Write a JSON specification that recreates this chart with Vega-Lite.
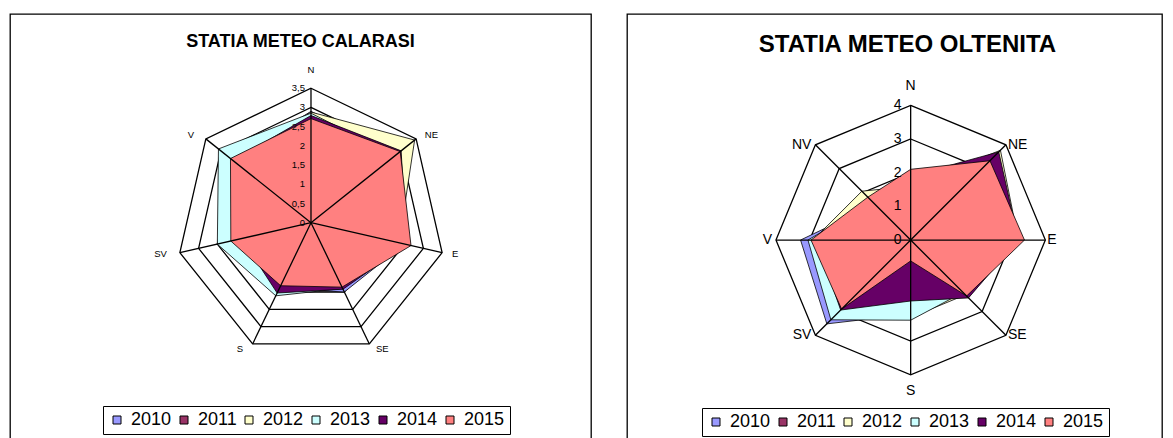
{
  "$schema": "https://vega.github.io/schema/vega-lite/v6.json",
  "background": "white",
  "padding": {"left": 9, "top": 13, "right": 0, "bottom": 0},
  "spacing": 34,
  "config": {
    "view": {"stroke": "black", "strokeWidth": 1.3},
    "font": "Liberation Sans",
    "locale": {"number": {"decimal": ",", "thousands": ".", "grouping": [3], "currency": ["", ""]}}
  },
  "resolve": {"scale": {"fill": "independent", "x": "independent", "y": "independent"}},
  "datasets": {
    "cal": [
      {"year": "2010", "dir": "N", "k": 0, "v": 2.9}, {"year": "2010", "dir": "NE", "k": 1, "v": 2.85}, {"year": "2010", "dir": "E", "k": 2, "v": 2.5}, {"year": "2010", "dir": "SE", "k": 3, "v": 2.0}, {"year": "2010", "dir": "S", "k": 4, "v": 1.9}, {"year": "2010", "dir": "SV", "k": 5, "v": 2.0}, {"year": "2010", "dir": "V", "k": 6, "v": 2.6},
      {"year": "2011", "dir": "N", "k": 0, "v": 2.7}, {"year": "2011", "dir": "NE", "k": 1, "v": 2.8}, {"year": "2011", "dir": "E", "k": 2, "v": 2.5}, {"year": "2011", "dir": "SE", "k": 3, "v": 1.85}, {"year": "2011", "dir": "S", "k": 4, "v": 1.8}, {"year": "2011", "dir": "SV", "k": 5, "v": 1.9}, {"year": "2011", "dir": "V", "k": 6, "v": 2.5},
      {"year": "2012", "dir": "N", "k": 0, "v": 2.88}, {"year": "2012", "dir": "NE", "k": 1, "v": 3.45}, {"year": "2012", "dir": "E", "k": 2, "v": 2.35}, {"year": "2012", "dir": "SE", "k": 3, "v": 1.8}, {"year": "2012", "dir": "S", "k": 4, "v": 1.8}, {"year": "2012", "dir": "SV", "k": 5, "v": 2.0}, {"year": "2012", "dir": "V", "k": 6, "v": 2.6},
      {"year": "2013", "dir": "N", "k": 0, "v": 2.85}, {"year": "2013", "dir": "NE", "k": 1, "v": 2.8}, {"year": "2013", "dir": "E", "k": 2, "v": 2.4}, {"year": "2013", "dir": "SE", "k": 3, "v": 1.9}, {"year": "2013", "dir": "S", "k": 4, "v": 2.11}, {"year": "2013", "dir": "SV", "k": 5, "v": 2.5}, {"year": "2013", "dir": "V", "k": 6, "v": 3.08},
      {"year": "2014", "dir": "N", "k": 0, "v": 2.79}, {"year": "2014", "dir": "NE", "k": 1, "v": 3.0}, {"year": "2014", "dir": "E", "k": 2, "v": 2.55}, {"year": "2014", "dir": "SE", "k": 3, "v": 1.92}, {"year": "2014", "dir": "S", "k": 4, "v": 2.03}, {"year": "2014", "dir": "SV", "k": 5, "v": 1.85}, {"year": "2014", "dir": "V", "k": 6, "v": 2.6},
      {"year": "2015", "dir": "N", "k": 0, "v": 2.71}, {"year": "2015", "dir": "NE", "k": 1, "v": 2.97}, {"year": "2015", "dir": "E", "k": 2, "v": 2.67}, {"year": "2015", "dir": "SE", "k": 3, "v": 1.86}, {"year": "2015", "dir": "S", "k": 4, "v": 1.82}, {"year": "2015", "dir": "SV", "k": 5, "v": 2.14}, {"year": "2015", "dir": "V", "k": 6, "v": 2.68}
    ],
    "olt": [
      {"year": "2010", "dir": "N", "k": 0, "v": 1.8}, {"year": "2010", "dir": "NE", "k": 1, "v": 3.3}, {"year": "2010", "dir": "E", "k": 2, "v": 3.0}, {"year": "2010", "dir": "SE", "k": 3, "v": 2.1}, {"year": "2010", "dir": "S", "k": 4, "v": 2.2}, {"year": "2010", "dir": "SV", "k": 5, "v": 3.52}, {"year": "2010", "dir": "V", "k": 6, "v": 3.27}, {"year": "2010", "dir": "NV", "k": 7, "v": 1.5},
      {"year": "2011", "dir": "N", "k": 0, "v": 1.9}, {"year": "2011", "dir": "NE", "k": 1, "v": 3.6}, {"year": "2011", "dir": "E", "k": 2, "v": 3.1}, {"year": "2011", "dir": "SE", "k": 3, "v": 2.2}, {"year": "2011", "dir": "S", "k": 4, "v": 2.0}, {"year": "2011", "dir": "SV", "k": 5, "v": 3.0}, {"year": "2011", "dir": "V", "k": 6, "v": 2.9}, {"year": "2011", "dir": "NV", "k": 7, "v": 1.6},
      {"year": "2012", "dir": "N", "k": 0, "v": 1.6}, {"year": "2012", "dir": "NE", "k": 1, "v": 3.77}, {"year": "2012", "dir": "E", "k": 2, "v": 3.2}, {"year": "2012", "dir": "SE", "k": 3, "v": 2.3}, {"year": "2012", "dir": "S", "k": 4, "v": 2.3}, {"year": "2012", "dir": "SV", "k": 5, "v": 2.8}, {"year": "2012", "dir": "V", "k": 6, "v": 2.9}, {"year": "2012", "dir": "NV", "k": 7, "v": 2.05},
      {"year": "2013", "dir": "N", "k": 0, "v": 1.9}, {"year": "2013", "dir": "NE", "k": 1, "v": 3.2}, {"year": "2013", "dir": "E", "k": 2, "v": 3.0}, {"year": "2013", "dir": "SE", "k": 3, "v": 2.2}, {"year": "2013", "dir": "S", "k": 4, "v": 2.38}, {"year": "2013", "dir": "SV", "k": 5, "v": 3.35}, {"year": "2013", "dir": "V", "k": 6, "v": 3.05}, {"year": "2013", "dir": "NV", "k": 7, "v": 1.6},
      {"year": "2014", "dir": "N", "k": 0, "v": 1.9}, {"year": "2014", "dir": "NE", "k": 1, "v": 3.7}, {"year": "2014", "dir": "E", "k": 2, "v": 3.2}, {"year": "2014", "dir": "SE", "k": 3, "v": 2.43}, {"year": "2014", "dir": "S", "k": 4, "v": 1.81}, {"year": "2014", "dir": "SV", "k": 5, "v": 2.94}, {"year": "2014", "dir": "V", "k": 6, "v": 2.8}, {"year": "2014", "dir": "NV", "k": 7, "v": 1.5},
      {"year": "2015", "dir": "N", "k": 0, "v": 2.1}, {"year": "2015", "dir": "NE", "k": 1, "v": 3.33}, {"year": "2015", "dir": "E", "k": 2, "v": 3.38}, {"year": "2015", "dir": "SE", "k": 3, "v": 2.35}, {"year": "2015", "dir": "S", "k": 4, "v": 0.62}, {"year": "2015", "dir": "SV", "k": 5, "v": 2.9}, {"year": "2015", "dir": "V", "k": 6, "v": 2.96}, {"year": "2015", "dir": "NV", "k": 7, "v": 1.8}
    ],
    "dirs_c": [{"dir": "N", "k": 0}, {"dir": "NE", "k": 1}, {"dir": "E", "k": 2}, {"dir": "SE", "k": 3}, {"dir": "S", "k": 4}, {"dir": "SV", "k": 5}, {"dir": "V", "k": 6}],
    "dirs_o": [{"dir": "N", "k": 0}, {"dir": "NE", "k": 1}, {"dir": "E", "k": 2}, {"dir": "SE", "k": 3}, {"dir": "S", "k": 4}, {"dir": "SV", "k": 5}, {"dir": "V", "k": 6}, {"dir": "NV", "k": 7}],
    "rings_c": [
      {"level": 0.5, "k": [0, 1, 2, 3, 4, 5, 6]}, {"level": 1, "k": [0, 1, 2, 3, 4, 5, 6]}, {"level": 1.5, "k": [0, 1, 2, 3, 4, 5, 6]}, {"level": 2, "k": [0, 1, 2, 3, 4, 5, 6]}, {"level": 2.5, "k": [0, 1, 2, 3, 4, 5, 6]}, {"level": 3, "k": [0, 1, 2, 3, 4, 5, 6]}, {"level": 3.5, "k": [0, 1, 2, 3, 4, 5, 6]}
    ],
    "rings_o": [
      {"level": 1, "k": [0, 1, 2, 3, 4, 5, 6, 7]}, {"level": 2, "k": [0, 1, 2, 3, 4, 5, 6, 7]}, {"level": 3, "k": [0, 1, 2, 3, 4, 5, 6, 7]}, {"level": 4, "k": [0, 1, 2, 3, 4, 5, 6, 7]}
    ],
    "ticks_c": [{"level": 0}, {"level": 0.5}, {"level": 1}, {"level": 1.5}, {"level": 2}, {"level": 2.5}, {"level": 3}, {"level": 3.5}],
    "ticks_o": [{"level": 0}, {"level": 1}, {"level": 2}, {"level": 3}, {"level": 4}]
  },
  "hconcat": [
    {
      "width": 581,
      "height": 425,
      "title": {"text": "STATIA METEO CALARASI", "fontSize": 18, "fontWeight": "bold", "font": "Liberation Sans", "color": "black", "anchor": "middle", "frame": "group", "baseline": "middle", "offset": -28, "dy": 18},
      "layer": [
        {
          "data": {"name": "rings_c"},
          "transform": [
            {"flatten": ["k"]},
            {"calculate": "datum.level/3.5*sin(datum.k*2*PI/7)", "as": "x"},
            {"calculate": "datum.level/3.5*cos(datum.k*2*PI/7)", "as": "y"}
          ],
          "mark": {"type": "line", "interpolate": "linear-closed", "stroke": "black", "strokeWidth": 1.3},
          "encoding": {
            "x": {"field": "x", "type": "quantitative", "scale": {"domain": [-2.238, 2.082], "zero": false, "nice": false}, "axis": null},
            "y": {"field": "y", "type": "quantitative", "scale": {"domain": [-1.608, 1.552], "zero": false, "nice": false}, "axis": null},
            "detail": {"field": "level", "type": "nominal"},
            "order": {"field": "k", "type": "quantitative"}
          }
        },
        {
          "data": {"name": "cal"},
          "transform": [
            {"calculate": "datum.v/3.5*sin(datum.k*2*PI/7)", "as": "x"},
            {"calculate": "datum.v/3.5*cos(datum.k*2*PI/7)", "as": "y"}
          ],
          "mark": {"type": "line", "interpolate": "linear-closed", "stroke": "black", "strokeWidth": 0.8},
          "encoding": {
            "x": {"field": "x", "type": "quantitative"},
            "y": {"field": "y", "type": "quantitative"},
            "fill": {
              "field": "year", "type": "nominal",
              "scale": {"domain": ["2010", "2011", "2012", "2013", "2014", "2015"], "range": ["#9999FF", "#993366", "#FFFFCC", "#CCFFFF", "#660066", "#FF8080"]},
              "legend": {"orient": "none", "legendX": 93, "legendY": 392, "direction": "horizontal", "title": null, "symbolType": "M-1,-1L1,-1L1,1L-1,1Z", "symbolSize": 64, "symbolStrokeColor": "black", "symbolStrokeWidth": 1, "symbolOpacity": 1, "labelFontSize": 18, "labelFont": "Liberation Sans", "labelColor": "black", "labelOffset": 5, "columnPadding": 3, "strokeColor": "black", "padding": 5}
            },
            "order": {"field": "k", "type": "quantitative"}
          }
        },
        {
          "data": {"name": "dirs_c"},
          "transform": [
            {"calculate": "sin(datum.k*2*PI/7)", "as": "x"},
            {"calculate": "cos(datum.k*2*PI/7)", "as": "y"}
          ],
          "mark": {"type": "rule", "stroke": "black", "strokeWidth": 1.3},
          "encoding": {
            "x": {"field": "x", "type": "quantitative"},
            "y": {"field": "y", "type": "quantitative"},
            "x2": {"datum": 0},
            "y2": {"datum": 0}
          }
        },
        {
          "data": {"name": "ticks_c"},
          "transform": [{"calculate": "datum.level/3.5", "as": "y"}],
          "mark": {"type": "text", "align": "right", "baseline": "middle", "dx": -6, "fontSize": 9.5, "color": "black"},
          "encoding": {
            "x": {"datum": 0, "type": "quantitative"},
            "y": {"field": "y", "type": "quantitative"},
            "text": {"field": "level", "type": "quantitative", "format": ".1~f"}
          }
        },
        {
          "data": {"name": "dirs_c"},
          "transform": [{"filter": "datum.k == 0"}],
          "mark": {"type": "text", "align": "center", "baseline": "middle", "dy": -18, "fontSize": 9.5, "color": "black"},
          "encoding": {
            "x": {"datum": 0, "type": "quantitative"},
            "y": {"datum": 1, "type": "quantitative"},
            "text": {"field": "dir"}
          }
        },
        {
          "data": {"name": "dirs_c"},
          "transform": [
            {"filter": "datum.k >= 1 && datum.k <= 3"},
            {"calculate": "1.045*sin(datum.k*2*PI/7)", "as": "x"},
            {"calculate": "1.045*cos(datum.k*2*PI/7)", "as": "y"}
          ],
          "mark": {"type": "text", "align": "left", "baseline": "middle", "dx": 4, "fontSize": 9.5, "color": "black"},
          "encoding": {
            "x": {"field": "x", "type": "quantitative"},
            "y": {"field": "y", "type": "quantitative"},
            "text": {"field": "dir"}
          }
        },
        {
          "data": {"name": "dirs_c"},
          "transform": [
            {"filter": "datum.k >= 4"},
            {"calculate": "1.045*sin(datum.k*2*PI/7)", "as": "x"},
            {"calculate": "1.045*cos(datum.k*2*PI/7)", "as": "y"}
          ],
          "mark": {"type": "text", "align": "right", "baseline": "middle", "dx": -7, "fontSize": 9.5, "color": "black"},
          "encoding": {
            "x": {"field": "x", "type": "quantitative"},
            "y": {"field": "y", "type": "quantitative"},
            "text": {"field": "dir"}
          }
        }
      ]
    },
    {
      "width": 535,
      "height": 425,
      "title": {"text": "STATIA METEO OLTENITA", "fontSize": 24, "fontWeight": "bold", "font": "Liberation Sans", "color": "black", "anchor": "middle", "frame": "group", "baseline": "middle", "offset": -32, "dx": 13, "dy": 23},
      "layer": [
        {
          "data": {"name": "rings_o"},
          "transform": [
            {"flatten": ["k"]},
            {"calculate": "datum.level/4*sin(datum.k*2*PI/8)", "as": "x"},
            {"calculate": "datum.level/4*cos(datum.k*2*PI/8)", "as": "y"}
          ],
          "mark": {"type": "line", "interpolate": "linear-closed", "stroke": "black", "strokeWidth": 1.3},
          "encoding": {
            "x": {"field": "x", "type": "quantitative", "scale": {"domain": [-2.106, 1.866], "zero": false, "nice": false}, "axis": null},
            "y": {"field": "y", "type": "quantitative", "scale": {"domain": [-1.477, 1.678], "zero": false, "nice": false}, "axis": null},
            "detail": {"field": "level", "type": "nominal"},
            "order": {"field": "k", "type": "quantitative"}
          }
        },
        {
          "data": {"name": "olt"},
          "transform": [
            {"calculate": "datum.v/4*sin(datum.k*2*PI/8)", "as": "x"},
            {"calculate": "datum.v/4*cos(datum.k*2*PI/8)", "as": "y"}
          ],
          "mark": {"type": "line", "interpolate": "linear-closed", "stroke": "black", "strokeWidth": 0.8},
          "encoding": {
            "x": {"field": "x", "type": "quantitative"},
            "y": {"field": "y", "type": "quantitative"},
            "fill": {
              "field": "year", "type": "nominal",
              "scale": {"domain": ["2010", "2011", "2012", "2013", "2014", "2015"], "range": ["#9999FF", "#993366", "#FFFFCC", "#CCFFFF", "#660066", "#FF8080"]},
              "legend": {"orient": "none", "legendX": 75, "legendY": 394, "direction": "horizontal", "title": null, "symbolType": "M-1,-1L1,-1L1,1L-1,1Z", "symbolSize": 64, "symbolStrokeColor": "black", "symbolStrokeWidth": 1, "symbolOpacity": 1, "labelFontSize": 18, "labelFont": "Liberation Sans", "labelColor": "black", "labelOffset": 5, "columnPadding": 3, "strokeColor": "black", "padding": 5}
            },
            "order": {"field": "k", "type": "quantitative"}
          }
        },
        {
          "data": {"name": "dirs_o"},
          "transform": [
            {"calculate": "sin(datum.k*2*PI/8)", "as": "x"},
            {"calculate": "cos(datum.k*2*PI/8)", "as": "y"}
          ],
          "mark": {"type": "rule", "stroke": "black", "strokeWidth": 1.3},
          "encoding": {
            "x": {"field": "x", "type": "quantitative"},
            "y": {"field": "y", "type": "quantitative"},
            "x2": {"datum": 0},
            "y2": {"datum": 0}
          }
        },
        {
          "data": {"name": "ticks_o"},
          "transform": [{"calculate": "datum.level/4", "as": "y"}],
          "mark": {"type": "text", "align": "right", "baseline": "middle", "dx": -9, "fontSize": 14, "color": "black"},
          "encoding": {
            "x": {"datum": 0, "type": "quantitative"},
            "y": {"field": "y", "type": "quantitative"},
            "text": {"field": "level", "type": "quantitative", "format": ".1~f"}
          }
        },
        {
          "data": {"name": "dirs_o"},
          "transform": [{"filter": "datum.k == 0"}],
          "mark": {"type": "text", "align": "center", "baseline": "middle", "dy": -19, "fontSize": 14, "color": "black"},
          "encoding": {
            "x": {"datum": 0, "type": "quantitative"},
            "y": {"datum": 1, "type": "quantitative"},
            "text": {"field": "dir"}
          }
        },
        {
          "data": {"name": "dirs_o"},
          "transform": [{"filter": "datum.k == 4"}],
          "mark": {"type": "text", "align": "center", "baseline": "middle", "dy": 16, "fontSize": 14, "color": "black"},
          "encoding": {
            "x": {"datum": 0, "type": "quantitative"},
            "y": {"datum": -1, "type": "quantitative"},
            "text": {"field": "dir"}
          }
        },
        {
          "data": {"name": "dirs_o"},
          "transform": [
            {"filter": "datum.k >= 1 && datum.k <= 3"},
            {"calculate": "sin(datum.k*2*PI/8)", "as": "x"},
            {"calculate": "cos(datum.k*2*PI/8)", "as": "y"}
          ],
          "mark": {"type": "text", "align": "left", "baseline": "middle", "dx": 2, "fontSize": 14, "color": "black"},
          "encoding": {
            "x": {"field": "x", "type": "quantitative"},
            "y": {"field": "y", "type": "quantitative"},
            "text": {"field": "dir"}
          }
        },
        {
          "data": {"name": "dirs_o"},
          "transform": [
            {"filter": "datum.k >= 5"},
            {"calculate": "sin(datum.k*2*PI/8)", "as": "x"},
            {"calculate": "cos(datum.k*2*PI/8)", "as": "y"}
          ],
          "mark": {"type": "text", "align": "right", "baseline": "middle", "dx": -4, "fontSize": 14, "color": "black"},
          "encoding": {
            "x": {"field": "x", "type": "quantitative"},
            "y": {"field": "y", "type": "quantitative"},
            "text": {"field": "dir"}
          }
        }
      ]
    }
  ]
}
